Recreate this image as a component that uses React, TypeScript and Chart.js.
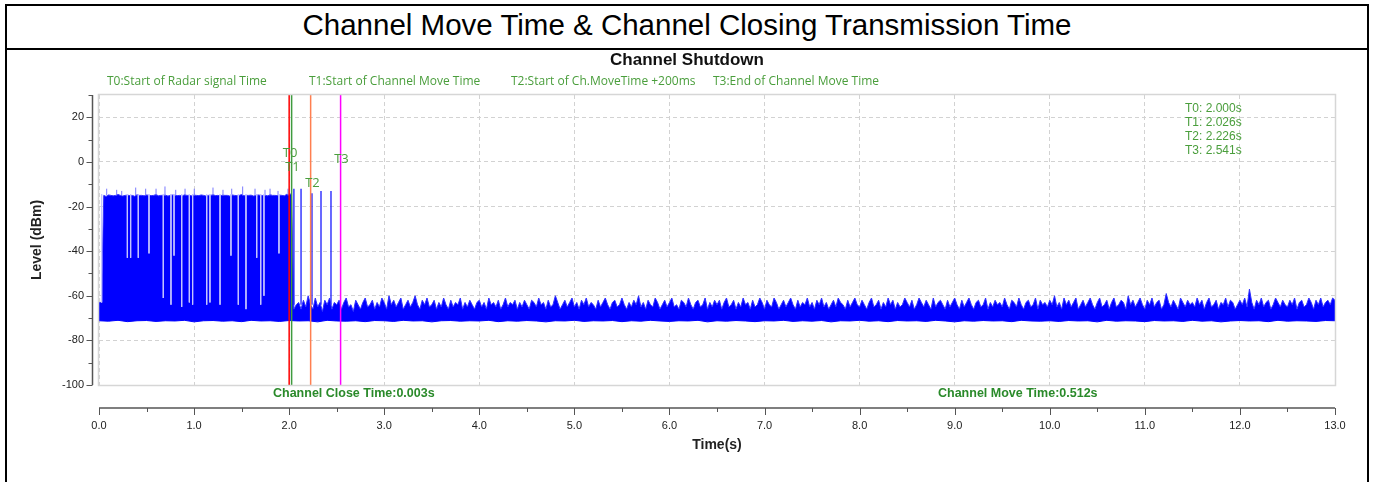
import React, { useEffect, useRef } from "react";
import { Chart, registerables } from "chart.js";

Chart.register(...registerables);

// ---------- axes ----------
const X_MIN = 0;
const X_MAX = 13;
const X_STEP = 1;
const Y_MIN = -100;
const Y_MAX = 30;
const Y_STEP = 20;

// ---------- texts ----------
const pageTitle = "Channel Move Time & Channel Closing Transmission Time";
const chartTitle = "Channel Shutdown";
const legendTexts = [
  "T0:Start of Radar signal Time",
  "T1:Start of Channel Move Time",
  "T2:Start of Ch.MoveTime +200ms",
  "T3:End of Channel Move Time",
];
const xTitle = "Time(s)";
const yTitle = "Level (dBm)";
const closeTimeText = "Channel Close Time:0.003s";
const moveTimeText = "Channel Move Time:0.512s";

// ---------- markers ----------
const markerNames = ["T0", "T1", "T2", "T3"];
const markerTimes = [2.0, 2.026, 2.226, 2.541];
const markerLabelTimes = [2.01, 2.035, 2.245, 2.55];
const markerLabelLevels = [3.8, -2.4, -9.4, 1.4];
const markerColors = ["#ff0000", "#3f9b3f", "#ff7f50", "#ff00ff"];

// ---------- signal: upper envelope (dBm) ----------
const SIG_STEP = 0.025;
// t = 0.000 .. 1.975
const preUpper = [
  -63, -63, -15, -15.5, -14.8, -15, -15.2, -15, -14.6, -15, -15.3, -15, -14.9, -15.1, -15, -15.4, -14.7, -15, -15, -15.2,
  -14.8, -15, -15.1, -15, -14.6, -15.2, -15, -15, -14.9, -15.3, -15, -14.8, -15, -15.1, -15, -15.3, -14.7, -15, -15, -15.2,
  -14.9, -15, -15.1, -14.8, -15, -15.3, -15, -15, -14.7, -15.1, -15, -15.2, -14.9, -15, -15, -15.3, -14.8, -15, -15.1, -15,
  -14.6, -15.2, -15, -15, -14.9, -15.3, -15, -14.8, -15, -15.1, -15, -15.2, -14.7, -15, -15, -15.1, -14.9, -15, -15.2, -14.5,
];
// t = 2.000 .. 13.000
const postUpper = [
  -15, -14, -66, -64, -63, -66, -62, -65, -60, -64, -66, -61, -65, -63, -67, -62, -64, -61, -66, -63,
  -64, -62, -66, -63, -61, -65, -64, -67, -62, -64, -66, -63, -61, -65, -64, -62, -66, -63, -65, -61,
  -63, -66, -60, -64, -62, -65, -63, -61, -66, -64, -62, -65, -63, -60, -64, -66, -62, -64, -61, -65,
  -64, -62, -66, -63, -65, -61, -64, -66, -62, -65, -63, -64, -61, -66, -63, -65, -62, -64, -66, -63,
  -62, -65, -63, -66, -61, -64, -63, -65, -62, -66, -64, -61, -65, -63, -64, -62, -66, -63, -65, -62,
  -64, -66, -62, -63, -65, -61, -64, -63, -66, -62, -65, -64, -60, -63, -66, -64, -62, -65, -63, -61,
  -65, -63, -66, -62, -64, -61, -65, -63, -64, -66, -62, -65, -63, -61, -64, -66, -63, -62, -65, -64,
  -61, -64, -66, -63, -65, -62, -64, -60, -65, -63, -66, -62, -64, -65, -61, -63, -66, -64, -62, -65,
  -63, -61, -65, -64, -66, -62, -63, -65, -61, -64, -66, -63, -62, -65, -64, -61, -66, -63, -65, -62,
  -64, -62, -66, -63, -61, -65, -64, -62, -66, -63, -65, -61, -64, -63, -66, -62, -65, -64, -61, -63,
  -66, -62, -64, -65, -61, -63, -66, -64, -62, -65, -63, -61, -64, -66, -62, -65, -63, -64, -61, -65,
  -63, -66, -62, -64, -61, -65, -63, -66, -64, -62, -65, -61, -63, -64, -66, -62, -65, -63, -61, -64,
  -65, -62, -64, -66, -63, -61, -65, -64, -62, -66, -63, -65, -61, -64, -62, -66, -63, -65, -64, -61,
  -63, -65, -62, -66, -64, -61, -63, -65, -62, -64, -66, -61, -65, -63, -62, -64, -66, -62, -65, -63,
  -61, -64, -66, -62, -65, -63, -61, -64, -66, -63, -62, -65, -64, -61, -66, -63, -65, -62, -64, -63,
  -65, -61, -64, -66, -62, -63, -65, -61, -64, -66, -63, -62, -65, -64, -61, -66, -62, -64, -63, -65,
  -62, -64, -60, -65, -63, -66, -61, -64, -62, -65, -63, -61, -66, -64, -62, -65, -63, -61, -64, -66,
  -63, -61, -65, -64, -62, -66, -63, -61, -65, -64, -62, -63, -66, -60, -64, -62, -65, -63, -61, -64,
  -66, -62, -64, -61, -65, -63, -62, -66, -64, -59, -63, -65, -62, -64, -66, -61, -63, -65, -62, -64,
  -63, -65, -61, -64, -62, -66, -63, -61, -65, -64, -62, -66, -63, -64, -61, -65, -62, -63, -66, -64,
  -62, -64, -61, -65, -57, -63, -66, -62, -64, -61, -65, -63, -62, -66, -64, -61, -63, -65, -62, -64,
  -65, -62, -64, -61, -66, -63, -62, -65, -64, -61, -63, -66, -62, -64, -61, -65, -63, -62, -64, -61,
  -62,
];
const POST_START = 2.0;

// ---------- signal: lower edge (dBm), t = 0 .. 13 ----------
const LOWER_STEP = 0.1;
const lowerEdge = [
  -71.2, -71.4, -71, -71.6, -71.2, -71.1, -71.5, -71.2, -71.3, -71, -71.7, -71.2, -71.1, -71.4, -71.2, -71.6, -71, -71.3, -71.2, -71.5,
  -71.1, -71.3, -71.2, -71.7, -71, -71.3, -71.4, -71.2, -71.6, -71.1, -71.2, -71.5, -71, -71.3, -71.2, -71.7, -71.2, -71.1, -71.4, -71.2,
  -71.3, -71, -71.6, -71.2, -71.4, -71.1, -71.3, -71.7, -71.2, -71.3, -71, -71.5, -71.2, -71.3, -71.1, -71.6, -71.2, -71.4, -71, -71.3,
  -71.5, -71.2, -71.3, -71, -71.7, -71.2, -71.4, -71.1, -71.3, -71.6, -71.2, -71.3, -71, -71.5, -71.2, -71.4, -71.1, -71.7, -71.2, -71.3,
  -71, -71.4, -71.2, -71.6, -71.1, -71.3, -71.2, -71.5, -71, -71.3, -71.7, -71.2, -71.4, -71.1, -71.3, -71.2, -71.6, -71, -71.3, -71.4,
  -71.2, -71.5, -71.1, -71.3, -71.2, -71.7, -71, -71.4, -71.2, -71.3, -71.6, -71.1, -71.3, -71.2, -71.5, -71, -71.4, -71.2, -71.7, -71.3,
  -71.1, -71.3, -71.2, -71.6, -71, -71.4, -71.2, -71.3, -71.5, -71.1, -71.2,
];

// ---------- pre-T0 thin spikes above band ----------
const spikeTimes = [0.081, 0.186, 0.239, 0.386, 0.491, 0.6, 0.694, 0.807, 0.905, 1.002, 1.199, 1.304, 1.396, 1.511, 1.641, 1.746, 1.799, 1.883, 1.988];
const spikeTops = [-12, -12.5, -13, -11.5, -12, -12, -11, -12.5, -12, -12, -11.5, -12.5, -12, -11, -12, -12.5, -12, -13, -12];
const SPIKE_BASE = -15;

// ---------- pre-T0 gaps (light dropouts) ----------
const gapTimes = [0.028, 0.298, 0.333, 0.413, 0.526, 0.676, 0.757, 0.789, 0.87, 0.95, 0.985, 1.133, 1.167, 1.273, 1.388, 1.465, 1.546, 1.659, 1.701, 1.735, 1.893];
const gapBottoms = [-63, -43, -43, -43, -41, -61, -64, -42, -65, -63, -64, -64, -63, -64, -42, -64, -66, -43, -64, -60, -41];
const GAP_TOP = -14.5;

// ---------- post-T0 pulses ----------
const pulseTimes = [2.05, 2.125, 2.24, 2.335, 2.44];
const pulseTops = [-12, -12, -14, -13, -13];
const PULSE_BASE = -64;

const GREEN = "#4a9e3c";
const GREEN_BOLD = "#2a8a2a";
const SANS = '"Liberation Sans", Arial, sans-serif';
const UI = '"Open Sans", "Noto Sans", sans-serif';

function verticalSegments(times: number[], from: number, tos: number[]) {
  const pts: any[] = [];
  times.forEach((t, i) => {
    pts.push({ x: t, y: from }, { x: t, y: tos[i] }, { x: t, y: null });
  });
  return pts;
}

const overlayPlugin = {
  id: "overlay",
  afterDatasetsDraw(chart: any) {
    const { ctx, chartArea: a } = chart;
    ctx.save();
    ctx.strokeStyle = "#d6d6d6";
    ctx.lineWidth = 1.5;
    ctx.strokeRect(a.left - 0.5, a.top - 0.5, a.right - a.left + 1, a.bottom - a.top + 1);
    ctx.restore();
  },
  afterDraw(chart: any) {
    const { ctx, chartArea: a } = chart;
    const xs = chart.scales.x;
    const ys = chart.scales.y;
    const line = (x1: number, y1: number, x2: number, y2: number) => {
      ctx.beginPath();
      ctx.moveTo(x1, y1);
      ctx.lineTo(x2, y2);
      ctx.stroke();
    };
    ctx.save();
    // y axis line + ticks
    ctx.strokeStyle = "#555";
    ctx.lineWidth = 1.5;
    const yAxisX = a.left - 6.5;
    line(yAxisX, a.top, yAxisX, a.bottom);
    for (let v = Y_MIN; v <= Y_MAX; v += Y_STEP / 2) {
      const py = Math.round(ys.getPixelForValue(v)) + 0.5;
      const len = v % Y_STEP === 0 ? 6 : 4;
      ctx.lineWidth = 1;
      line(yAxisX - len, py, yAxisX, py);
    }
    // x axis line + ticks
    const xAxisY = a.bottom + 23;
    ctx.lineWidth = 1.5;
    line(a.left, xAxisY, a.right, xAxisY);
    for (let v = X_MIN; v <= X_MAX + 1e-9; v += X_STEP / 2) {
      const px = Math.round(xs.getPixelForValue(v)) + 0.5;
      const major = Math.abs(v - Math.round(v)) < 1e-9;
      ctx.lineWidth = 1;
      line(px, xAxisY, px, xAxisY + (major ? 7 : 4));
    }

    // chart title
    ctx.fillStyle = "#111";
    ctx.textAlign = "center";
    ctx.textBaseline = "middle";
    ctx.font = `bold 17px ${SANS}`;
    ctx.fillText(chartTitle, chart.width / 2, 60);

    // legend texts
    ctx.fillStyle = GREEN;
    ctx.textAlign = "left";
    ctx.font = `12px ${UI}`;
    legendTexts.forEach((t, i) => ctx.fillText(t, 107 + i * 202, 82));

    // marker labels
    ctx.textAlign = "center";
    ctx.font = `13px ${UI}`;
    markerNames.forEach((n, i) => {
      ctx.fillText(n, xs.getPixelForValue(markerLabelTimes[i]), ys.getPixelForValue(markerLabelLevels[i]));
    });

    // info box (top right)
    ctx.textAlign = "left";
    ctx.font = `12px ${SANS}`;
    markerNames.forEach((n, i) => {
      ctx.fillText(`${n}: ${markerTimes[i].toFixed(3)}s`, 1185, 109 + i * 14);
    });

    // close/move times
    ctx.fillStyle = GREEN_BOLD;
    ctx.font = `bold 12.5px ${SANS}`;
    ctx.fillText(closeTimeText, a.left + 174, a.bottom + 9);
    ctx.fillText(moveTimeText, a.left + 839, a.bottom + 9);

    // axis titles
    ctx.fillStyle = "#222";
    ctx.font = `bold 14px ${SANS}`;
    ctx.textAlign = "center";
    ctx.fillText(xTitle, (a.left + a.right) / 2, 445);
    ctx.save();
    ctx.translate(37, (a.top + a.bottom) / 2);
    ctx.rotate(-Math.PI / 2);
    ctx.fillText(yTitle, 0, 0);
    ctx.restore();

    ctx.restore();
  },
};

export default function App() {
  const ref = useRef<HTMLCanvasElement | null>(null);

  useEffect(() => {
    if (!ref.current) return;
    const upperPts = [
      ...preUpper.map((v, i) => ({ x: i * SIG_STEP, y: v })),
      ...postUpper.map((v, i) => ({ x: POST_START + i * SIG_STEP, y: v })),
    ];
    const lowerPts = lowerEdge.map((v, i) => ({ x: i * LOWER_STEP, y: v }));

    const markerSets = markerTimes.map((t, i) => ({
      type: "line",
      data: [
        { x: t, y: Y_MIN },
        { x: t, y: Y_MAX },
      ],
      borderColor: markerColors[i],
      borderWidth: 1.5,
      pointRadius: 0,
      fill: false,
      order: 0,
    }));

    const chart = new Chart(ref.current, {
      type: "line",
      data: {
        datasets: [
          ...markerSets,
          {
            data: verticalSegments(pulseTimes, PULSE_BASE, pulseTops),
            borderColor: "#1a1aff",
            borderWidth: 1.3,
            pointRadius: 0,
            spanGaps: false,
            fill: false,
            order: 1,
          },
          {
            data: verticalSegments(gapTimes, GAP_TOP, gapBottoms),
            borderColor: "#c4c4ff",
            borderWidth: 1,
            pointRadius: 0,
            spanGaps: false,
            fill: false,
            order: 2,
          },
          {
            data: verticalSegments(spikeTimes, SPIKE_BASE, spikeTops),
            borderColor: "#7a7aff",
            borderWidth: 1,
            pointRadius: 0,
            spanGaps: false,
            fill: false,
            order: 3,
          },
          {
            data: upperPts,
            borderColor: "#3030ff",
            borderWidth: 1,
            backgroundColor: "#0000ff",
            pointRadius: 0,
            fill: { value: -71 },
            order: 4,
          },
          {
            data: lowerPts,
            borderColor: "#0000ff",
            borderWidth: 1,
            backgroundColor: "#0000ff",
            pointRadius: 0,
            fill: { value: -70 },
            order: 5,
          },
        ] as any,
      },
      options: {
        responsive: false,
        animation: false,
        events: [],
        layout: { padding: { left: 0, right: 39, top: 95, bottom: 0 } },
        elements: { point: { radius: 0 }, line: { tension: 0 } },
        plugins: {
          legend: { display: false },
          title: { display: false },
          tooltip: { enabled: false },
        },
        scales: {
          x: {
            type: "linear",
            min: X_MIN,
            max: X_MAX,
            offset: false,
            afterFit: (s: any) => {
              s.height = 97;
              s.paddingLeft = 0;
              s.paddingRight = 0;
            },
            ticks: {
              stepSize: X_STEP,
              autoSkip: false,
              maxRotation: 0,
              padding: 34,
              color: "#222",
              font: { family: SANS, size: 11 },
              callback: (v: any) => Number(v).toFixed(1),
            },
            grid: { color: "#d2d2d2", lineWidth: 1, drawTicks: false },
            border: { display: false, dash: [4, 3] },
          },
          y: {
            type: "linear",
            min: Y_MIN,
            max: Y_MAX,
            afterFit: (s: any) => {
              s.width = 99;
              s.paddingTop = 0;
              s.paddingBottom = 0;
            },
            ticks: {
              stepSize: Y_STEP,
              includeBounds: false,
              padding: 15,
              color: "#222",
              font: { family: SANS, size: 11 },
            },
            grid: { color: "#d2d2d2", lineWidth: 1, drawTicks: false },
            border: { display: false, dash: [4, 3] },
          },
        },
      } as any,
      plugins: [overlayPlugin],
    });
    return () => chart.destroy();
  }, []);

  return (
    <div style={{ position: "fixed", left: 0, top: 0, width: 1374, height: 482, overflow: "hidden", background: "#fff" }}>
      <div
        style={{
          position: "absolute",
          left: 5,
          top: 4,
          width: 1364,
          height: 520,
          boxSizing: "border-box",
          border: "2px solid #000",
        }}
      >
        <div
          style={{
            height: 42,
            borderBottom: "2px solid #000",
            textAlign: "center",
            fontFamily: SANS,
            fontSize: 29.5,
            lineHeight: "37px",
            color: "#000",
          }}
        >
          {pageTitle}
        </div>
      </div>
      <canvas ref={ref} width={1374} height={482} style={{ position: "absolute", left: 0, top: 0 }} />
    </div>
  );
}
